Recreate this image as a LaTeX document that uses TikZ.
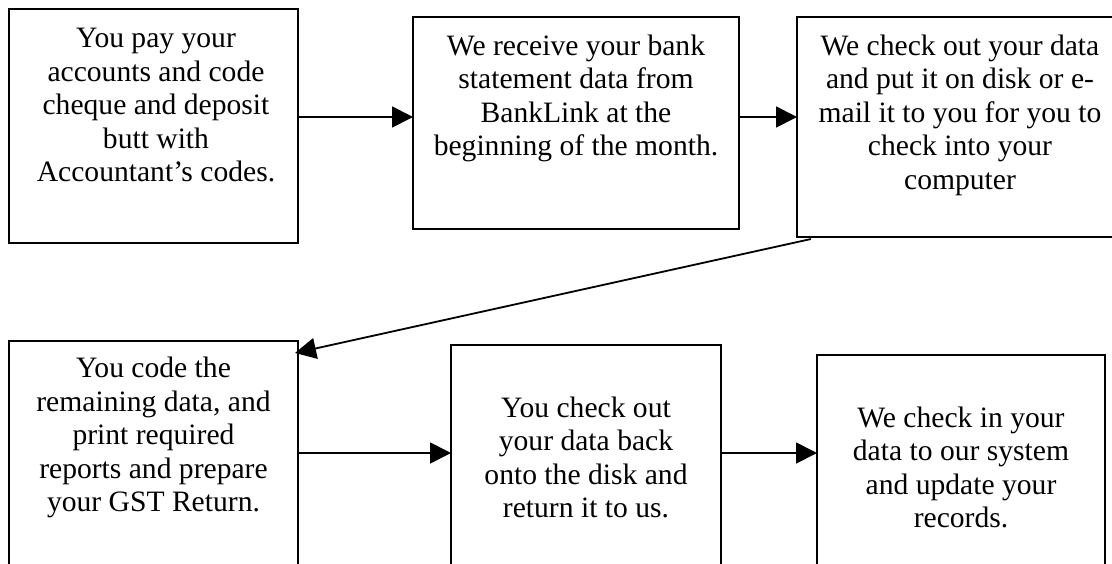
\documentclass[tikz,border=0pt]{standalone}
\usepackage{fontspec}
\setmainfont{Liberation Serif}
\usetikzlibrary{arrows.meta}

\begin{document}
\begin{tikzpicture}[
  x=1pt, y=-1pt,
  stepbox/.style={draw=black, line width=1.8pt, inner sep=0pt, outer sep=0pt, fill=white},
  txt/.style={anchor=north, align=center, inner sep=0pt, outer sep=0pt,
              font=\fontsize{29.6}{33.6}\selectfont},
  flow/.style={draw=black, line width=1.8pt,
               -{Triangle[length=21pt, width=21pt]}}
]
% page area
\clip (0,0) rectangle (1112,563);
\fill[white] (0,0) rectangle (1112,563);

% process boxes
\node[stepbox, minimum width=289pt, minimum height=234pt] (b1) at (153.5,126) {};
\node[stepbox, minimum width=326pt, minimum height=212pt] (b2) at (576,123) {};
\node[stepbox, minimum width=325pt, minimum height=220pt] (b3) at (959.5,127) {};
\node[stepbox, minimum width=289pt, minimum height=249pt] (b4) at (153.5,465.5) {};
\node[stepbox, minimum width=270pt, minimum height=245pt] (b5) at (586,467.5) {};
\node[stepbox, minimum width=288pt, minimum height=235pt] (b6) at (961,472.5) {};

% box texts
\node[txt] (t1) at (156,24) {\strut You pay your\\accounts and code\\cheque and deposit\\butt with\\Accountant’s codes.};
\node[txt] (t2) at (576,31.5) {\strut We receive your bank\\statement data from\\BankLink at the\\beginning of the month.};
\node[txt] (t3) at (960,31.5) {\strut We check out your data\\and put it on disk or e-\\mail it to you for you to\\check into your\\computer};
\node[txt] (t4) at (153.5,354) {\strut You code the\\remaining data, and\\print required\\reports and prepare\\your GST Return.};
\node[txt] (t5) at (586,393.5) {\strut You check out\\your data back\\onto the disk and\\return it to us.};
\node[txt] (t6) at (961,403.5) {\strut We check in your\\data to our system\\and update your\\records.};

% connectors
\draw[flow] ([yshift=9pt]b1.east) -- ([yshift=6pt]b2.west);
\draw[flow] ([yshift=6pt]b2.east) -- ([yshift=10pt]b3.west);
\draw[flow] ([xshift=14pt,yshift=-2pt]b3.south west) -- ([xshift=-3pt,yshift=-12pt]b4.north east);
\draw[flow] ([yshift=12.5pt]b4.east) -- ([yshift=14.5pt]b5.west);
\draw[flow] ([yshift=14.5pt]b5.east) -- ([yshift=19.5pt]b6.west);
\end{tikzpicture}
\end{document}
